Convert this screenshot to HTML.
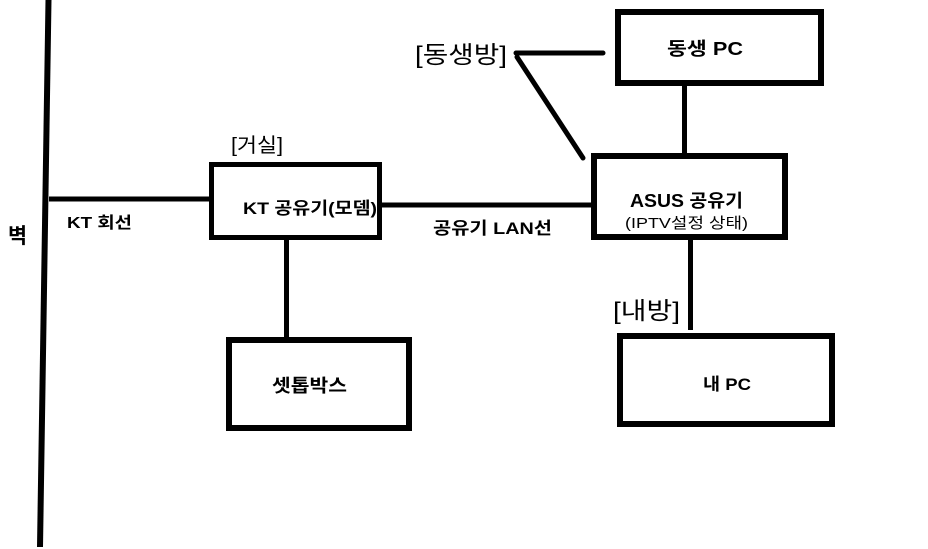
<!DOCTYPE html>
<html>
<head>
<meta charset="utf-8">
<style>
html,body{margin:0;padding:0;background:#fff;}
svg{display:block;}
.b{font-family:"Liberation Sans","Noto Sans CJK KR",sans-serif;font-weight:bold;fill:#000;}
.r{font-family:"Liberation Sans","Noto Sans CJK KR",sans-serif;font-weight:normal;fill:#000;}
</style>
</head>
<body>
<svg width="928" height="549" viewBox="0 0 928 549" xmlns="http://www.w3.org/2000/svg">
<rect width="928" height="549" fill="#fff"/>
<g stroke="#000" fill="none" stroke-linecap="butt">
  <!-- wall -->
  <line x1="48.5" y1="0" x2="40" y2="547" stroke-width="6"/>
  <!-- KT line -->
  <line x1="49" y1="199" x2="209" y2="199" stroke-width="5"/>
  <!-- KT -> ASUS -->
  <line x1="382" y1="205" x2="591" y2="205" stroke-width="5"/>
  <!-- KT -> settop -->
  <line x1="286.5" y1="240" x2="286.5" y2="337" stroke-width="5"/>
  <!-- sibling PC -> ASUS -->
  <line x1="684.5" y1="86" x2="684.5" y2="153" stroke-width="5"/>
  <!-- ASUS -> my PC -->
  <line x1="690.5" y1="240" x2="690.5" y2="330" stroke-width="5"/>
  <!-- 동생방 lines -->
  <line x1="516" y1="53" x2="603" y2="53" stroke-width="5" stroke-linecap="round"/>
  <line x1="517" y1="57" x2="583" y2="158" stroke-width="5" stroke-linecap="round"/>
  <!-- boxes -->
  <rect x="618" y="12" width="203" height="71" stroke-width="6"/>
  <rect x="594" y="156" width="191" height="81" stroke-width="6"/>
  <rect x="211.5" y="164.5" width="168" height="73" stroke-width="5"/>
  <rect x="229" y="340" width="180" height="88" stroke-width="6"/>
  <rect x="620" y="336" width="212" height="88" stroke-width="6"/>
</g>
<text class="b" x="8" y="243" font-size="21" textLength="19" lengthAdjust="spacingAndGlyphs">벽</text>
<text class="b" x="67" y="228" font-size="16" textLength="65" lengthAdjust="spacingAndGlyphs">KT 회선</text>
<text class="r" x="231" y="152" font-size="20" textLength="52" lengthAdjust="spacingAndGlyphs">[거실]</text>
<text class="b" x="243" y="214" font-size="17" textLength="134" lengthAdjust="spacingAndGlyphs">KT 공유기(모뎀)</text>
<text class="b" x="433" y="234" font-size="17" textLength="119" lengthAdjust="spacingAndGlyphs">공유기 LAN선</text>
<text class="b" x="630" y="207" font-size="18" textLength="113" lengthAdjust="spacingAndGlyphs">ASUS 공유기</text>
<text class="r" x="625" y="228" font-size="15" textLength="123" lengthAdjust="spacingAndGlyphs">(IPTV설정 상태)</text>
<text class="b" x="667" y="55" font-size="18" textLength="76" lengthAdjust="spacingAndGlyphs">동생 PC</text>
<text class="r" x="415" y="63" font-size="24" textLength="92" lengthAdjust="spacingAndGlyphs">[동생방]</text>
<text class="r" x="613" y="319" font-size="24" textLength="67" lengthAdjust="spacingAndGlyphs">[내방]</text>
<text class="b" x="272" y="392" font-size="18" textLength="75" lengthAdjust="spacingAndGlyphs">셋톱박스</text>
<text class="b" x="703" y="390" font-size="17" textLength="48" lengthAdjust="spacingAndGlyphs">내 PC</text>
</svg>
</body>
</html>
